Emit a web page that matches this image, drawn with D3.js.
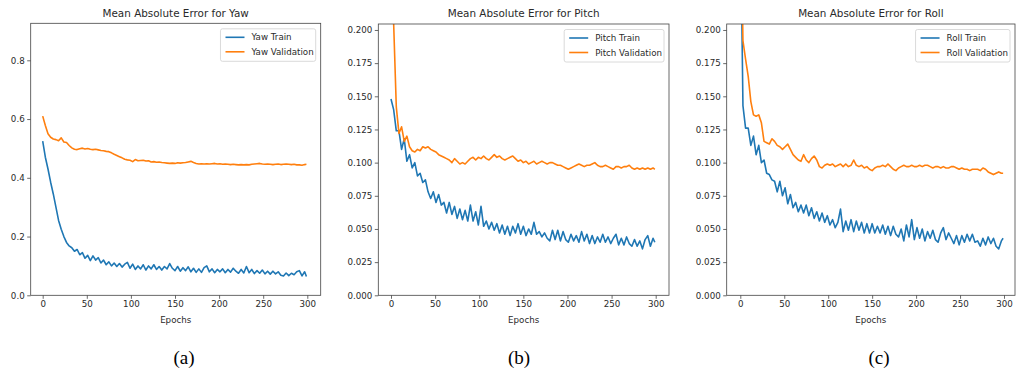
<!DOCTYPE html>
<html>
<head>
<meta charset="utf-8">
<script src="https://cdn.jsdelivr.net/npm/d3@7"></script>
<style>
  body { margin: 0; background: #fff; }
  text { font-family: "DejaVu Sans", sans-serif; fill: #2a2a2a; }
</style>
</head>
<body>
<div id="chart"></div>
<script>
// epochs sampled every 3 steps, plus the final epoch
const epochs = d3.range(0, 300, 3).concat([299]);

const yawTrain = [0.525,0.470,0.430,0.385,0.345,0.300,0.255,0.225,0.200,0.180,0.168,0.162,0.150,0.156,0.138,0.145,0.126,
  0.136,0.118,0.134,0.120,0.128,0.110,0.120,0.104,0.114,0.100,
  0.110,0.098,0.108,0.096,0.106,0.112,0.092,0.106,0.088,0.100,
  0.090,0.104,0.086,0.100,0.090,0.104,0.088,0.098,0.086,0.098,
  0.090,0.108,0.092,0.084,0.098,0.082,0.094,0.084,0.097,0.080,
  0.092,0.078,0.090,0.078,0.094,0.100,0.080,0.090,0.077,0.088,
  0.080,0.090,0.077,0.088,0.079,0.092,0.082,0.075,0.088,0.076,
  0.098,0.077,0.088,0.074,0.084,0.075,0.086,0.073,0.082,0.072,
  0.082,0.073,0.080,0.068,0.066,0.076,0.067,0.075,0.070,0.080,
  0.084,0.066,0.080,0.064];
const yawVal = [0.610,0.578,0.550,0.538,0.532,0.530,0.526,0.536,0.522,0.520,0.510,0.502,0.497,0.496,0.499,0.501,0.498,0.500,0.497,0.496,
  0.497,0.495,0.493,0.492,0.490,0.489,0.485,0.480,0.476,0.472,0.468,0.463,0.461,0.460,0.455,0.462,0.458,0.459,0.460,0.457,
  0.458,0.454,0.455,0.453,0.454,0.452,0.451,0.450,0.449,0.450,0.449,0.451,0.450,0.451,0.452,0.454,0.456,0.452,0.449,0.447,
  0.448,0.447,0.448,0.447,0.448,0.449,0.447,0.448,0.446,0.447,0.446,0.445,0.446,0.445,0.444,0.445,0.444,0.445,0.444,0.446,
  0.447,0.448,0.449,0.447,0.446,0.447,0.446,0.445,0.446,0.447,0.445,0.446,0.447,0.446,0.445,0.446,0.444,0.444,0.443,0.445,0.446];

const pitchTrain = [0.148,0.140,0.124,0.124,0.110,0.118,0.101,0.106,0.096,0.100,0.090,0.092,0.085,0.087,0.078,0.073,0.078,0.070,0.076,0.068,
  0.070,0.062,0.070,0.061,0.067,0.058,0.065,0.057,0.064,0.056,
  0.068,0.056,0.063,0.053,0.067,0.052,0.056,0.050,0.055,0.049,
  0.054,0.047,0.053,0.046,0.052,0.045,0.052,0.047,0.054,0.046,
  0.052,0.045,0.050,0.046,0.055,0.046,0.048,0.044,0.047,0.043,
  0.041,0.049,0.042,0.049,0.041,0.048,0.042,0.040,0.046,0.041,
  0.045,0.040,0.048,0.041,0.046,0.039,0.045,0.039,0.044,0.040,
  0.046,0.040,0.044,0.039,0.043,0.046,0.038,0.043,0.038,0.044,
  0.039,0.037,0.042,0.037,0.041,0.035,0.042,0.045,0.037,0.043,
  0.040];
const pitchVal = [0.320,0.205,0.142,0.122,0.127,0.116,0.120,0.112,0.109,0.108,0.110,0.109,0.112,0.111,0.112,0.110,0.109,0.108,0.106,0.105,
  0.104,0.103,0.102,0.100,0.103,0.101,0.099,0.100,0.099,0.101,0.103,0.104,0.102,0.104,0.103,0.105,0.103,0.102,0.104,0.106,
  0.104,0.105,0.103,0.102,0.103,0.104,0.105,0.103,0.101,0.102,0.100,0.101,0.099,0.100,0.101,0.099,0.100,0.101,0.100,0.099,
  0.100,0.100,0.099,0.098,0.098,0.097,0.096,0.095,0.096,0.097,0.098,0.099,0.098,0.097,0.098,0.098,0.099,0.100,0.098,0.097,
  0.097,0.098,0.097,0.096,0.095,0.097,0.097,0.096,0.097,0.097,0.098,0.096,0.095,0.096,0.095,0.096,0.095,0.096,0.095,0.096,0.095];

const rollTrain = [0.300,0.143,0.126,0.126,0.113,0.120,0.106,0.113,0.100,0.102,0.092,0.091,0.087,0.086,0.078,0.086,0.075,0.081,0.069,0.076,
  0.066,0.070,0.063,0.068,0.062,0.068,0.060,0.066,0.058,0.063,
  0.056,0.062,0.055,0.060,0.053,0.057,0.051,0.055,0.065,0.048,
  0.056,0.049,0.057,0.048,0.056,0.049,0.055,0.047,0.054,0.047,
  0.054,0.047,0.052,0.047,0.053,0.046,0.052,0.045,0.052,0.046,
  0.044,0.050,0.041,0.053,0.044,0.057,0.042,0.051,0.043,0.050,
  0.041,0.048,0.043,0.049,0.042,0.040,0.047,0.051,0.042,0.047,
  0.043,0.039,0.045,0.038,0.045,0.040,0.046,0.041,0.046,0.040,
  0.041,0.037,0.043,0.038,0.044,0.039,0.043,0.037,0.035,0.041,
  0.043];
const rollVal = [0.320,0.192,0.178,0.165,0.146,0.136,0.135,0.136,0.130,0.116,0.115,0.114,0.118,0.116,0.113,0.112,0.110,0.112,0.114,0.110,
  0.106,0.104,0.102,0.101,0.106,0.102,0.100,0.103,0.105,0.102,0.097,0.096,0.098,0.099,0.098,0.099,0.097,0.098,0.099,0.097,
  0.099,0.097,0.098,0.102,0.098,0.097,0.098,0.096,0.097,0.095,0.094,0.096,0.097,0.097,0.098,0.097,0.099,0.097,0.095,0.094,
  0.096,0.097,0.098,0.097,0.097,0.098,0.097,0.097,0.098,0.097,0.098,0.098,0.097,0.096,0.097,0.097,0.096,0.097,0.096,0.096,
  0.097,0.097,0.096,0.095,0.096,0.095,0.095,0.094,0.095,0.095,0.095,0.094,0.096,0.095,0.093,0.092,0.091,0.092,0.093,0.092,0.092];

const titles = ["Mean Absolute Error for Yaw", "Mean Absolute Error for Pitch", "Mean Absolute Error for Roll"];
const names = ["Yaw", "Pitch", "Roll"];
const captions = ["(a)", "(b)", "(c)"];
const xTicks = [0, 50, 100, 150, 200, 250, 300];
const yTicksYaw = [0, 0.2, 0.4, 0.6, 0.8];
const yTicksAngle = [0, 0.025, 0.05, 0.075, 0.1, 0.125, 0.15, 0.175, 0.2];

const trainColor = "#1f77b4";
const valColor = "#ff7f0e";

const W = 1017, H = 380;
const svg = d3.select("#chart").append("svg").attr("width", W).attr("height", H);

// frame layout for each panel (pixel positions of epoch 0 / 300 and frame edges)
const panels = [
  { train: yawTrain, val: yawVal, ymax: 0.926, yticks: yTicksYaw, fmt: d3.format(".1f"),
    left: 30.7, right: 320.7, x0: 42.7, x300: 307.3, top: 23.3, bottom: 295.3, caption: 184 },
  { train: pitchTrain, val: pitchVal, ymax: 0.2045, yticks: yTicksAngle, fmt: d3.format(".3f"),
    left: 378.3, right: 669, x0: 391, x300: 655.7, top: 24, bottom: 295.3, caption: 519 },
  { train: rollTrain, val: rollVal, ymax: 0.2045, yticks: yTicksAngle, fmt: d3.format(".3f"),
    left: 726.7, right: 1015, x0: 740.3, x300: 1004, top: 24, bottom: 295.3, caption: 879 }
];

panels.forEach((p, i) => {
  const x = d3.scaleLinear().domain([0, 300]).range([p.x0, p.x300]);
  const y = d3.scaleLinear().domain([0, p.ymax]).range([p.bottom, p.top]);
  const g = svg.append("g");

  g.append("clipPath").attr("id", "clip" + i)
    .append("rect")
    .attr("x", p.left).attr("y", p.top)
    .attr("width", p.right - p.left).attr("height", p.bottom - p.top);

  const line = d3.line().x((d, j) => x(epochs[j])).y(d => y(d));

  g.append("path").datum(p.train)
    .attr("clip-path", `url(#clip${i})`)
    .attr("fill", "none").attr("stroke", trainColor)
    .attr("stroke-width", 1.6).attr("stroke-linejoin", "round")
    .attr("d", line);
  g.append("path").datum(p.val)
    .attr("clip-path", `url(#clip${i})`)
    .attr("fill", "none").attr("stroke", valColor)
    .attr("stroke-width", 1.6).attr("stroke-linejoin", "round")
    .attr("d", line);

  // axes
  const xAxis = g.append("g")
    .attr("transform", `translate(0,${p.bottom})`)
    .call(d3.axisBottom(x).tickValues(xTicks).tickSize(3.5).tickPadding(2.5).tickFormat(d3.format("d")));
  const yAxis = g.append("g")
    .attr("transform", `translate(${p.left},0)`)
    .call(d3.axisLeft(y).tickValues(p.yticks).tickSize(3.5).tickPadding(2.5).tickFormat(p.fmt));
  [xAxis, yAxis].forEach(a => {
    a.select(".domain").remove();
    a.selectAll(".tick line").attr("stroke", "#444").attr("stroke-width", 0.8);
    a.selectAll(".tick text").style("font-size", "8.7px").style("font-family", "DejaVu Sans").attr("fill", "#2a2a2a");
  });

  // frame
  g.append("rect")
    .attr("x", p.left).attr("y", p.top)
    .attr("width", p.right - p.left).attr("height", p.bottom - p.top)
    .attr("fill", "none").attr("stroke", "#444").attr("stroke-width", 0.8);

  // title and x label
  g.append("text")
    .attr("x", (p.left + p.right) / 2).attr("y", 16.5)
    .attr("text-anchor", "middle").style("font-size", "10.4px")
    .text(titles[i]);
  g.append("text")
    .attr("x", (p.left + p.right) / 2).attr("y", 323)
    .attr("text-anchor", "middle").style("font-size", "8.7px")
    .text("Epochs");

  // legend
  const lg = g.append("g");
  const box = lg.append("rect")
    .attr("fill", "#fff").attr("fill-opacity", 0.8)
    .attr("stroke", "#d0d0d0").attr("stroke-width", 0.8).attr("rx", 2);
  const labels = [names[i] + " Train", names[i] + " Validation"];
  const colors = [trainColor, valColor];
  const texts = labels.map((t, k) => lg.append("text")
    .attr("y", p.top + 14 + k * 14.5 + 3)
    .style("font-size", "8.7px")
    .text(t));
  const tw = d3.max(texts, t => t.node().getComputedTextLength());
  const bw = tw + 33;
  const bx = p.right - 5 - bw;
  const by = p.top + 5.5;
  box.attr("x", bx).attr("y", by).attr("width", bw).attr("height", 32.5);
  texts.forEach(t => t.attr("x", bx + 31));
  labels.forEach((t, k) => {
    lg.append("line")
      .attr("x1", bx + 5).attr("x2", bx + 24)
      .attr("y1", p.top + 14 + k * 14.5).attr("y2", p.top + 14 + k * 14.5)
      .attr("stroke", colors[k]).attr("stroke-width", 1.6);
  });

  // caption
  svg.append("text")
    .attr("x", p.caption).attr("y", 364)
    .attr("text-anchor", "middle")
    .style("font-family", "'Liberation Serif', serif")
    .style("font-size", "19px").style("fill", "#000")
    .text(captions[i]);
});
</script>
</body>
</html>
